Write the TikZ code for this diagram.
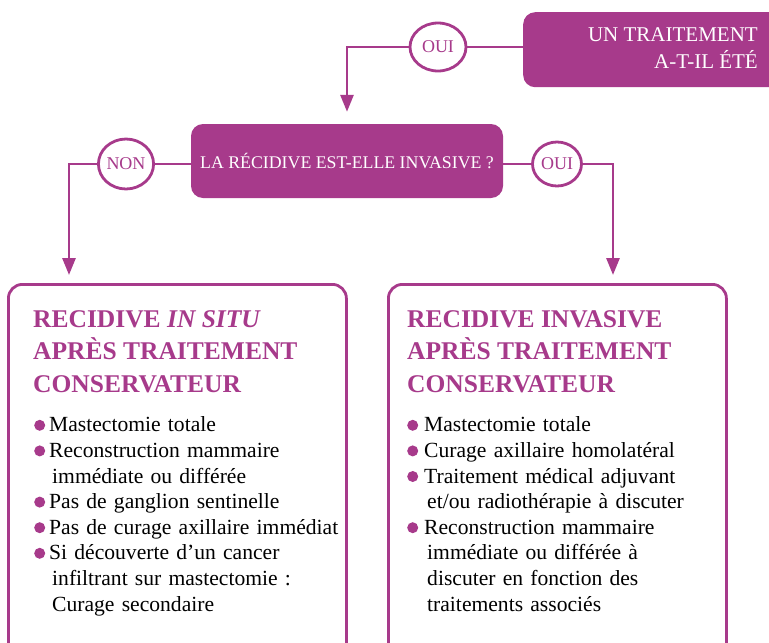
\documentclass[tikz,border=0pt]{standalone}
\usepackage{fontspec}
\setmainfont{Liberation Serif}
\usepackage{tikz}
\usetikzlibrary{positioning,shapes.geometric,arrows.meta}
\usepackage{xcolor}
\definecolor{RecidiveMagenta}{HTML}{A73A8B}
\newlength{\retrait}
\newcommand{\puce}{\tikz[baseline=0pt]\fill[RecidiveMagenta] (5.5pt,6.5pt) circle[radius=5.5pt];}
\newcommand{\ligne}{\par\noindent\hangindent=\dimexpr\retrait+3pt\relax\hangafter=1\makebox[\retrait][l]{\puce}}

\begin{document}
\begin{tikzpicture}[x=1pt,y=-1pt,
    qbox/.style={fill=RecidiveMagenta, rounded corners=12pt, inner sep=0pt, text=white},
    reponse/.style={ellipse, draw=RecidiveMagenta, line width=2.8pt, fill=white, inner sep=0pt,
      text=RecidiveMagenta, font=\fontsize{18}{20}\selectfont},
    lien/.style={RecidiveMagenta, line width=2.8pt},
    fleche/.style={lien, -{Triangle[width=13pt,length=17pt]}},
    cadre/.style={draw=RecidiveMagenta, line width=2.8pt, rounded corners=14pt, fill=white,
      minimum width=338pt, minimum height=380pt, anchor=north west},
    titre/.style={text=RecidiveMagenta, align=left, inner sep=0pt,
      font=\fontsize{25.5}{32.5}\selectfont\bfseries},
    liste/.style={text width=320pt, align=left, inner sep=0pt,
      font=\fontsize{21.6}{25.6}\selectfont}]
    \useasboundingbox (0,0) rectangle (769,643);
    \clip (0,0) rectangle (769,643);

    % questions
    \node[qbox, anchor=north west, minimum width=300pt, minimum height=75pt] (Q1) at (523,12) {};
    \node[text=white, anchor=east, align=right, inner sep=0pt,
      font=\fontsize{21}{27}\selectfont] (Q1txt) at (758,48) {UN TRAITEMENT\\A-T-IL ÉTÉ};
    \node[qbox, minimum width=312pt, minimum height=74pt,
      font=\fontsize{17.8}{19}\selectfont] (Q2) at (347,161) {LA RÉCIDIVE EST-ELLE INVASIVE ?};

    % reponses
    \node[reponse, minimum width=56pt, minimum height=48pt] (OuiA) at (438,47) {OUI};
    \node[reponse, minimum width=55pt, minimum height=50pt] (Non) at (126,164) {NON};
    \node[reponse, minimum width=49pt, minimum height=44pt] (OuiB) at (557,164) {OUI};

    % cadres
    \node[cadre] (InSitu) at (7,283) {};
    \node[cadre] (Invasive) at (387,283) {};

    \coordinate (NonBas) at (69,275);
    \coordinate (OuiBas) at (613,275);

    \draw[lien] (OuiA) -- (OuiA -| Q1.west);
    \draw[fleche] (OuiA) -| ([yshift=12pt]Q2.north);
    \draw[lien] (Non -| Q2.west) -- (Non);
    \draw[fleche] (Non) -| (NonBas);
    \draw[lien] (OuiB -| Q2.east) -- (OuiB);
    \draw[fleche] (OuiB) -| (OuiBas);

    % textes des cadres
    \node[titre, below right=27pt and 26pt of InSitu.north west] (InSituTitre)
      {RECIDIVE \textit{IN SITU}\\APRÈS TRAITEMENT\\CONSERVATEUR};
    \node[liste, below right=123pt and 27pt of InSitu.north west] (InSituListe) {%
      \setlength{\retrait}{15pt}%
      \ligne Mastectomie totale
      \ligne Reconstruction mammaire\newline immédiate ou différée
      \ligne Pas de ganglion sentinelle
      \ligne Pas de curage axillaire immédiat
      \ligne Si découverte d’un cancer\newline infiltrant sur mastectomie :\newline Curage secondaire\par};

    \node[titre, below right=27pt and 20pt of Invasive.north west] (InvasiveTitre)
      {RECIDIVE INVASIVE\\APRÈS TRAITEMENT\\CONSERVATEUR};
    \node[liste, below right=123pt and 20pt of Invasive.north west] (InvasiveListe) {%
      \setlength{\retrait}{17pt}%
      \ligne Mastectomie totale
      \ligne Curage axillaire homolatéral
      \ligne Traitement médical adjuvant\newline et/ou radiothérapie à discuter
      \ligne Reconstruction mammaire\newline immédiate ou différée à\newline discuter en fonction des\newline traitements associés\par};
\end{tikzpicture}
\end{document}
